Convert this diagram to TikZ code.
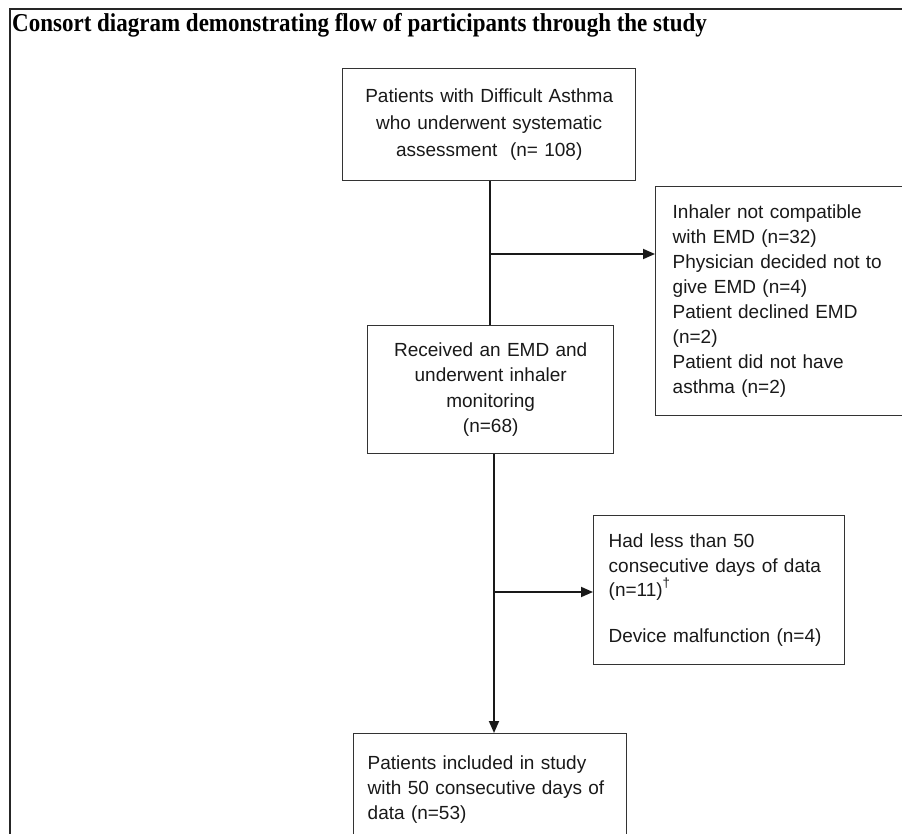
\documentclass[tikz,border=0pt]{standalone}
\usepackage{fontspec}
\setmainfont{Liberation Sans}
\newfontfamily\titlefont{Liberation Serif}
\usetikzlibrary{arrows.meta,calc}
\begin{document}
\begin{tikzpicture}[x=1pt,y=-1pt,
  box/.style={draw=black!80, line width=1.4pt, inner sep=0pt, text=black!90},
  conn/.style={line width=1.8pt, draw=black!90},
  arr/.style={conn, -{Triangle[length=12pt,width=10pt]}}]
\useasboundingbox (0,0) rectangle (902,834);
\clip (0,0) rectangle (902,834);
% frame
\draw[line width=1.8pt, black!85] (910,9) -- (10,9) -- (10,845);
\node[anchor=base west, inner sep=0pt, font=\titlefont\bfseries\fontsize{23}{28}\selectfont] (title) at (12,32) {\scalebox{1}[1.12]{Consort diagram demonstrating flow of participants through the study}};
% boxes
\node[box, anchor=north west, minimum width=293pt, minimum height=112pt, text width=273pt, align=center, font=\fontsize{19}{27}\selectfont] (b1) at (342,68)
  {Patients with Difficult Asthma\\who underwent systematic\\assessment\ \ (n= 108)};
\node[box, anchor=north west, minimum width=246pt, minimum height=128pt, text width=226pt, align=center, font=\fontsize{19}{25.3}\selectfont] (b2) at (367,325)
  {Received an EMD and\\underwent inhaler\\monitoring\\(n=68)};
\node[box, anchor=north west, minimum width=260pt, minimum height=229pt, text width=226pt, align=left, font=\fontsize{19}{25}\selectfont] (r1) at (655,186)
  {Inhaler not compatible\\with EMD (n=32)\\Physician decided not to\\give EMD (n=4)\\Patient declined EMD\\(n=2)\\Patient did not have\\asthma (n=2)};
\node[box, anchor=north west, minimum width=251pt, minimum height=149pt, text width=221pt, align=left, font=\fontsize{19}{24.5}\selectfont] (r2) at (593,515)
  {Had less than 50\\consecutive days of data\\(n=11)\raisebox{3pt}{\textsuperscript{†}}\\[21pt]Device malfunction (n=4)};
\node[box, anchor=north west, minimum width=273pt, minimum height=112pt, text width=245pt, align=left, font=\fontsize{19}{25}\selectfont] (b3) at (353,733)
  {Patients included in study\\with 50 consecutive days of\\data (n=53)};
% connectors
\coordinate (j1) at (490,254);
\coordinate (j2) at (494,592);
\draw[conn] (b1.south -| j1) -- (b2.north -| j1);
\draw[arr] (j1) -- (j1 -| r1.west);
\draw[arr] (b2.south -| j2) -- (b3.north -| j2);
\draw[arr] (j2) -- (j2 -| r2.west);
\end{tikzpicture}
\end{document}
